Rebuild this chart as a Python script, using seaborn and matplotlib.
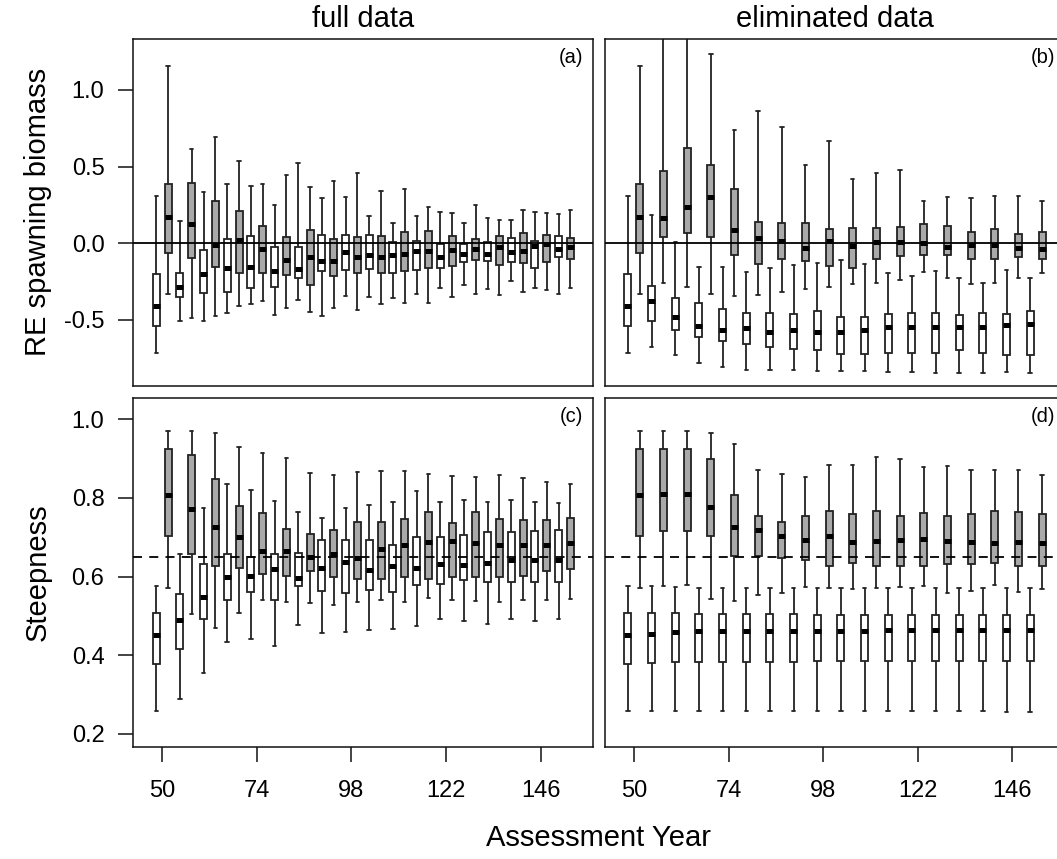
import matplotlib
matplotlib.use("Agg")
import matplotlib.pyplot as plt
import seaborn as sns
import pandas as pd

# ---------------- data (lo whisker, Q1, median, Q3, hi whisker) ----------------
YEARS = [50, 56, 62, 68, 74, 80, 86, 92, 98, 104, 110, 116, 122, 128, 134, 140, 146, 152]
X_TICKS = [50, 74, 98, 122, 146]

sb_full_white = [
    (-0.713, -0.537, -0.411, -0.200, 0.311), (-0.507, -0.348, -0.283, -0.196, 0.148),
    (-0.507, -0.326, -0.202, -0.043, 0.333), (-0.457, -0.320, -0.163, 0.028, 0.389),
    (-0.396, -0.291, -0.154, 0.048, 0.372), (-0.467, -0.285, -0.178, -0.024, 0.250),
    (-0.370, -0.224, -0.165, -0.022, 0.524), (-0.476, -0.180, -0.117, 0.052, 0.296),
    (-0.343, -0.172, -0.054, 0.052, 0.302), (-0.350, -0.165, -0.078, 0.057, 0.177),
    (-0.357, -0.196, -0.078, 0.011, 0.135), (-0.330, -0.172, -0.052, 0.013, 0.178),
    (-0.291, -0.159, -0.089, -0.002, 0.204), (-0.272, -0.122, -0.067, -0.002, 0.130),
    (-0.300, -0.115, -0.067, 0.011, 0.163), (-0.246, -0.120, -0.057, 0.033, 0.150),
    (-0.289, -0.163, -0.020, 0.013, 0.207), (-0.333, -0.091, -0.037, 0.048, 0.189),
]
sb_full_gray = [
    (-0.330, -0.065, 0.170, 0.385, 1.159), (-0.485, -0.096, 0.126, 0.393, 0.615),
    (-0.474, -0.152, -0.013, 0.278, 0.696), (-0.407, -0.191, 0.020, 0.209, 0.539),
    (-0.376, -0.191, -0.039, 0.113, 0.385), (-0.420, -0.209, -0.107, 0.041, 0.443),
    (-0.448, -0.272, -0.091, 0.085, 0.370), (-0.420, -0.215, -0.117, 0.026, 0.404),
    (-0.437, -0.196, -0.091, 0.041, 0.461), (-0.396, -0.196, -0.087, 0.048, 0.339),
    (-0.387, -0.183, -0.072, 0.076, 0.352), (-0.387, -0.159, -0.052, 0.083, 0.239),
    (-0.352, -0.150, -0.046, 0.050, 0.200), (-0.330, -0.107, -0.039, 0.028, 0.252),
    (-0.335, -0.141, -0.024, 0.050, 0.150), (-0.317, -0.128, -0.050, 0.067, 0.217),
    (-0.304, -0.120, -0.007, 0.054, 0.200), (-0.293, -0.104, -0.024, 0.037, 0.220),
]
sb_elim_white = [
    (-0.713, -0.537, -0.411, -0.200, 0.311), (-0.674, -0.504, -0.378, -0.276, 0.183),
    (-0.726, -0.565, -0.478, -0.357, 0.011), (-0.778, -0.613, -0.537, -0.387, -0.157),
    (-0.804, -0.639, -0.563, -0.428, -0.157), (-0.824, -0.657, -0.554, -0.452, -0.185),
    (-0.824, -0.674, -0.576, -0.457, -0.161), (-0.824, -0.687, -0.567, -0.461, -0.141),
    (-0.833, -0.696, -0.576, -0.441, -0.126), (-0.833, -0.722, -0.576, -0.478, -0.107),
    (-0.833, -0.720, -0.567, -0.483, -0.137), (-0.839, -0.713, -0.548, -0.461, -0.193),
    (-0.839, -0.717, -0.548, -0.457, -0.211), (-0.843, -0.713, -0.548, -0.457, -0.183),
    (-0.843, -0.696, -0.548, -0.467, -0.228), (-0.843, -0.713, -0.543, -0.457, -0.261),
    (-0.839, -0.730, -0.535, -0.461, -0.174), (-0.848, -0.730, -0.524, -0.439, -0.224),
]
sb_elim_gray = [
    (-0.330, -0.065, 0.170, 0.385, 1.159), (-0.257, 0.043, 0.163, 0.472, 1.450),
    (-0.283, 0.070, 0.235, 0.620, 1.600), (-0.330, 0.039, 0.304, 0.513, 1.237),
    (-0.343, -0.076, 0.089, 0.357, 0.739), (-0.337, -0.137, 0.033, 0.139, 0.863),
    (-0.317, -0.100, 0.017, 0.130, 0.759), (-0.298, -0.113, -0.028, 0.130, 0.511),
    (-0.283, -0.148, 0.013, 0.096, 0.665), (-0.267, -0.159, -0.015, 0.100, 0.422),
    (-0.259, -0.104, 0.007, 0.100, 0.461), (-0.241, -0.080, 0.007, 0.104, 0.476),
    (-0.189, -0.078, 0.000, 0.124, 0.278), (-0.224, -0.078, -0.024, 0.115, 0.302),
    (-0.263, -0.100, -0.009, 0.072, 0.296), (-0.259, -0.104, -0.013, 0.093, 0.311),
    (-0.224, -0.087, -0.028, 0.063, 0.307), (-0.193, -0.104, -0.039, 0.072, 0.278),
]
h_full_white = [
    (0.259, 0.377, 0.451, 0.507, 0.576), (0.289, 0.416, 0.490, 0.555, 0.656),
    (0.354, 0.493, 0.549, 0.633, 0.775), (0.433, 0.539, 0.599, 0.657, 0.836),
    (0.441, 0.560, 0.601, 0.650, 0.821), (0.424, 0.539, 0.619, 0.657, 0.793),
    (0.476, 0.577, 0.596, 0.661, 0.763), (0.457, 0.563, 0.621, 0.693, 0.748),
    (0.459, 0.557, 0.637, 0.693, 0.774), (0.465, 0.566, 0.616, 0.693, 0.782),
    (0.467, 0.560, 0.627, 0.680, 0.789), (0.474, 0.578, 0.622, 0.701, 0.818),
    (0.491, 0.580, 0.633, 0.701, 0.789), (0.486, 0.590, 0.630, 0.705, 0.794),
    (0.479, 0.587, 0.635, 0.713, 0.789), (0.491, 0.587, 0.641, 0.713, 0.794),
    (0.486, 0.585, 0.641, 0.716, 0.789), (0.491, 0.587, 0.641, 0.719, 0.786),
]
h_full_gray = [
    (0.572, 0.704, 0.807, 0.924, 0.971), (0.504, 0.658, 0.772, 0.909, 0.969),
    (0.470, 0.626, 0.727, 0.848, 0.965), (0.508, 0.621, 0.701, 0.780, 0.930),
    (0.539, 0.606, 0.666, 0.761, 0.914), (0.535, 0.602, 0.666, 0.720, 0.901),
    (0.533, 0.615, 0.649, 0.707, 0.864), (0.527, 0.599, 0.657, 0.718, 0.857),
    (0.535, 0.594, 0.647, 0.738, 0.866), (0.541, 0.594, 0.669, 0.738, 0.869),
    (0.534, 0.598, 0.680, 0.746, 0.868), (0.546, 0.593, 0.688, 0.763, 0.862),
    (0.541, 0.600, 0.691, 0.737, 0.856), (0.537, 0.599, 0.686, 0.765, 0.854),
    (0.535, 0.600, 0.681, 0.746, 0.859), (0.541, 0.602, 0.681, 0.744, 0.851),
    (0.539, 0.615, 0.681, 0.744, 0.840), (0.543, 0.619, 0.685, 0.748, 0.835),
]
h_elim_white = [
    (0.259, 0.377, 0.451, 0.507, 0.576), (0.258, 0.379, 0.453, 0.507, 0.576),
    (0.259, 0.382, 0.459, 0.507, 0.574), (0.259, 0.383, 0.462, 0.505, 0.572),
    (0.259, 0.383, 0.462, 0.505, 0.572), (0.259, 0.383, 0.462, 0.505, 0.572),
    (0.259, 0.383, 0.462, 0.505, 0.570), (0.259, 0.383, 0.462, 0.505, 0.570),
    (0.259, 0.384, 0.462, 0.503, 0.570), (0.259, 0.384, 0.462, 0.503, 0.570),
    (0.259, 0.384, 0.462, 0.503, 0.570), (0.259, 0.384, 0.465, 0.503, 0.570),
    (0.259, 0.384, 0.465, 0.503, 0.570), (0.259, 0.384, 0.465, 0.503, 0.570),
    (0.259, 0.384, 0.465, 0.503, 0.570), (0.259, 0.384, 0.465, 0.503, 0.570),
    (0.256, 0.384, 0.465, 0.503, 0.570), (0.256, 0.384, 0.465, 0.503, 0.570),
]
h_elim_gray = [
    (0.572, 0.704, 0.807, 0.924, 0.971), (0.576, 0.716, 0.810, 0.924, 0.971),
    (0.578, 0.716, 0.809, 0.924, 0.971), (0.542, 0.704, 0.777, 0.898, 0.964),
    (0.537, 0.653, 0.727, 0.807, 0.936), (0.554, 0.653, 0.719, 0.755, 0.872),
    (0.557, 0.646, 0.703, 0.738, 0.861), (0.574, 0.641, 0.694, 0.753, 0.852),
    (0.572, 0.628, 0.702, 0.767, 0.883), (0.569, 0.634, 0.689, 0.759, 0.883),
    (0.571, 0.628, 0.691, 0.767, 0.904), (0.574, 0.626, 0.693, 0.753, 0.898),
    (0.576, 0.628, 0.696, 0.761, 0.878), (0.558, 0.631, 0.691, 0.753, 0.880),
    (0.564, 0.631, 0.689, 0.759, 0.872), (0.578, 0.634, 0.686, 0.767, 0.870),
    (0.560, 0.626, 0.689, 0.763, 0.870), (0.569, 0.626, 0.685, 0.758, 0.859),
]

# ---------------- style ----------------
sns.set_style("white")
plt.rcParams["font.family"] = ["Liberation Sans", "DejaVu Sans"]
plt.rcParams["axes.unicode_minus"] = False
plt.rcParams["text.color"] = "black"
plt.rcParams["axes.labelcolor"] = "black"
plt.rcParams["xtick.color"] = "black"
plt.rcParams["ytick.color"] = "black"

W, H = 1057, 859
fig = plt.figure(figsize=(W / 100, H / 100), dpi=100)

def frac_rect(x0, y0, x1, y1):
    return [x0 / W, 1 - y1 / H, (x1 - x0) / W, (y1 - y0) / H]

ax_a = fig.add_axes(frac_rect(133.3, 39.0, 593.3, 385.7))
ax_b = fig.add_axes(frac_rect(605.0, 39.0, 1065.0, 385.7))
ax_c = fig.add_axes(frac_rect(133.3, 398.3, 593.3, 746.7))
ax_d = fig.add_axes(frac_rect(605.0, 398.3, 1065.0, 746.7))

EDGE = "#222222"

def draw(ax, white, gray):
    rows = []
    for yr, w, g in zip(YEARS, white, gray):
        for v in w:
            rows.append((yr, "w", v))
        for v in g:
            rows.append((yr, "g", v))
    df = pd.DataFrame(rows, columns=["year", "grp", "val"])
    sns.boxplot(data=df, x="year", y="val", hue="grp", hue_order=["w", "g"],
                palette={"w": "white", "g": "#A9A9A9"}, native_scale=True,
                dodge=True, width=1.0, gap=0.41, whis=(0, 100),
                showfliers=False, linecolor=EDGE, linewidth=1.3,
                medianprops={"color": "black", "linewidth": 3.6,
                             "solid_capstyle": "butt"},
                legend=False, ax=ax)
    ax.set_xlim(42.68, 159.32)
    ax.set_xlabel("")
    ax.set_ylabel("")
    for s in ax.spines.values():
        s.set_visible(True)
        s.set_color("#111111")
        s.set_linewidth(1.1)

draw(ax_a, sb_full_white, sb_full_gray)
draw(ax_b, sb_elim_white, sb_elim_gray)
draw(ax_c, h_full_white, h_full_gray)
draw(ax_d, h_elim_white, h_elim_gray)

for ax in (ax_a, ax_b):
    ax.set_ylim(-0.929, 1.332)
    ax.axhline(0, color="black", lw=1.3, zorder=5)
for ax in (ax_c, ax_d):
    ax.set_ylim(0.167, 1.0534)
    ax.axhline(0.65, color="black", lw=1.3, ls=(0, (5, 4)), zorder=5)

tick_kw = dict(length=10.8, width=1.1, color="#111111", labelcolor="black",
               labelsize=17, direction="out")
ax_a.set_yticks([-0.5, 0.0, 0.5, 1.0])
ax_a.set_yticklabels(["-0.5", "0.0", "0.5", "1.0"])
ax_c.set_yticks([0.2, 0.4, 0.6, 0.8, 1.0])
ax_c.set_yticklabels(["0.2", "0.4", "0.6", "0.8", "1.0"])
for ax in (ax_a, ax_c):
    ax.tick_params(axis="y", left=True, pad=10, **tick_kw)
for ax in (ax_b, ax_d):
    ax.set_yticks([])
for ax in (ax_a, ax_b):
    ax.set_xticks([])
for ax in (ax_c, ax_d):
    ax.set_xticks(X_TICKS)
    ax.set_xticklabels([str(t) for t in X_TICKS])
    ax.tick_params(axis="x", bottom=True, pad=13, **tick_kw)

for ax, lab in zip((ax_a, ax_b, ax_c, ax_d), ("(a)", "(b)", "(c)", "(d)")):
    ax.text(1 - 10 / 460, 1 - 9 / 347, lab, transform=ax.transAxes,
            ha="right", va="top", fontsize=14.5, color="black")

fig.text(363 / W, 1 - 19 / H, "full data", ha="center", va="center", fontsize=21)
fig.text(835 / W, 1 - 19 / H, "eliminated data", ha="center", va="center", fontsize=21)
fig.text(38 / W, 1 - 212 / H, "RE spawning biomass", rotation=90,
         ha="center", va="center", fontsize=21)
fig.text(38 / W, 1 - 572 / H, "Steepness", rotation=90,
         ha="center", va="center", fontsize=21)
fig.text(599 / W, 1 - 838 / H, "Assessment Year", ha="center", va="center",
         fontsize=21)

fig.savefig("out.png", dpi=100)
